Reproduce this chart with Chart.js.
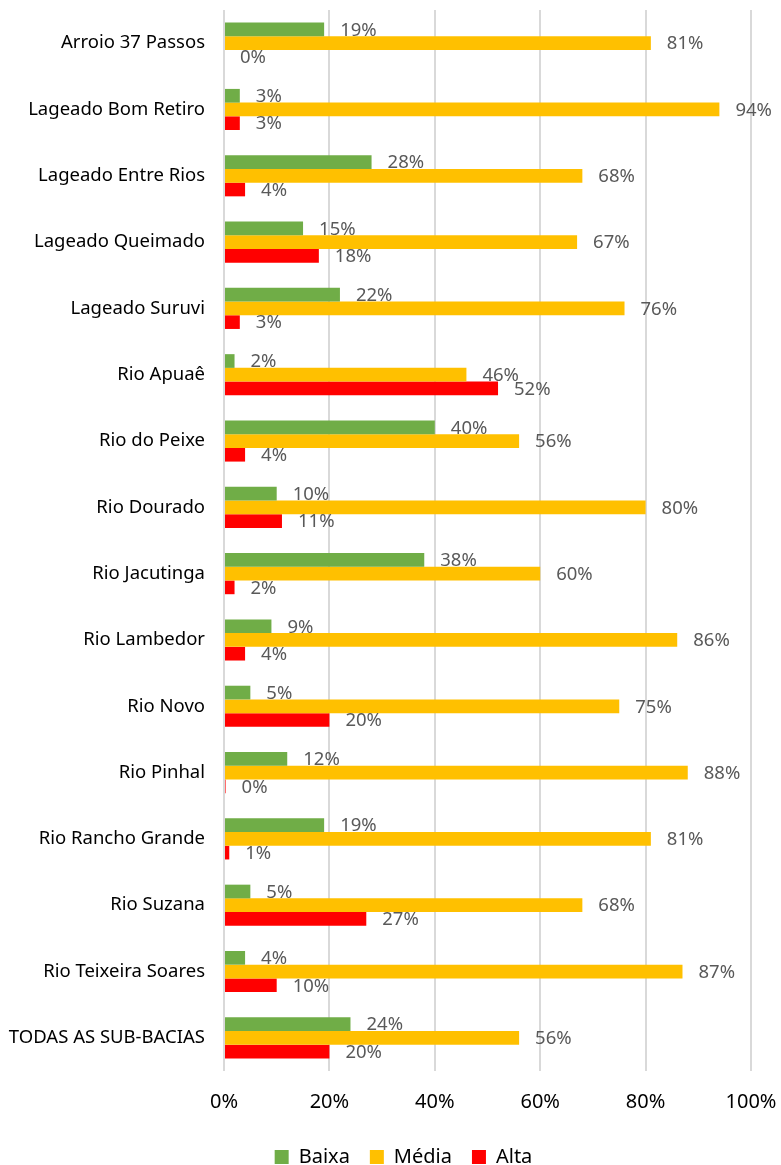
<!DOCTYPE html>
<html lang="pt-BR">
<head>
<meta charset="utf-8">
<title>Sub-bacias</title>
<script src="https://cdn.jsdelivr.net/npm/chart.js@4.4.1/dist/chart.umd.min.js"></script>
<style>
  html, body { margin: 0; padding: 0; background: #fff; }
  canvas { display: block; }
</style>
</head>
<body>
<canvas id="grafico" width="781" height="1165"></canvas>
<script>
// sub-bacias e percentuais por classe
const subBacias = [
    'Arroio 37 Passos', 'Lageado Bom Retiro', 'Lageado Entre Rios', 'Lageado Queimado',
    'Lageado Suruvi', 'Rio Apuaê', 'Rio do Peixe', 'Rio Dourado', 'Rio Jacutinga',
    'Rio Lambedor', 'Rio Novo', 'Rio Pinhal', 'Rio Rancho Grande', 'Rio Suzana',
    'Rio Teixeira Soares', 'TODAS AS SUB-BACIAS'
];
const baixa = [19, 3, 28, 15, 22, 2, 40, 10, 38, 9, 5, 12, 19, 5, 4, 24];
const media = [81, 94, 68, 67, 76, 46, 56, 80, 60, 86, 75, 88, 81, 68, 87, 56];
const alta  = [0, 3, 4, 18, 3, 52, 4, 11, 2, 4, 20, 0.3, 1, 27, 10, 20];
const ticksX = [0, 20, 40, 60, 80, 100];

const fonte = '"Noto Sans", "Open Sans", sans-serif';

// escreve o percentual logo depois do fim de cada barra
const rotulosBarras = {
    id: 'rotulosBarras',
    afterDatasetsDraw(chart) {
        const ctx = chart.ctx;
        ctx.save();
        ctx.font = '18.5px ' + fonte;
        ctx.fillStyle = '#595959';
        ctx.textAlign = 'left';
        ctx.textBaseline = 'middle';
        chart.data.datasets.forEach((ds, i) => {
            chart.getDatasetMeta(i).data.forEach((bar, j) => {
                ctx.fillText(Math.round(ds.data[j]) + '%', bar.x + 16, bar.y + 1);
            });
        });
        ctx.restore();
    }
};

// desce a legenda para perto da borda e puxa um pouco para a direita
const legendaAbaixo = {
    id: 'legendaAbaixo',
    afterLayout(chart) {
        const lg = chart.legend;
        lg.top += 12;
        lg.bottom += 12;
        lg.left += 28;
        lg.right += 28;
    }
};

new Chart(document.getElementById('grafico'), {
    type: 'bar',
    data: {
        labels: subBacias,
        datasets: [
            { label: 'Baixa', data: baixa, backgroundColor: '#70AD47' },
            { label: 'Média', data: media, backgroundColor: '#FFC000' },
            { label: 'Alta', data: alta, backgroundColor: '#FF0000' }
        ]
    },
    options: {
        indexAxis: 'y',
        responsive: false,
        animation: false,
        categoryPercentage: 0.62,
        barPercentage: 1,
        layout: { padding: { top: 10, right: 30, left: 0, bottom: 0 } },
        scales: {
            x: {
                min: 0,
                max: 100,
                afterBuildTicks: s => { s.ticks = ticksX.map(v => ({ value: v })); },
                afterFit: s => { s.height = 44; s.paddingLeft = 0; s.paddingRight = 0; },
                grid: { color: '#D9D9D9', lineWidth: 2, drawTicks: false },
                border: { display: false },
                ticks: {
                    padding: 19,
                    color: '#000',
                    font: { family: fonte, size: 20 },
                    callback: v => v + '%'
                }
            },
            y: {
                grid: { display: false, drawTicks: false },
                border: { display: false },
                afterFit: s => { s.width = 224; s.paddingTop = 0; s.paddingBottom = 0; },
                ticks: {
                    padding: 19,
                    color: '#000',
                    font: { family: fonte, size: 18.5 }
                }
            }
        },
        plugins: {
            legend: {
                position: 'bottom',
                labels: {
                    boxWidth: 14,
                    boxHeight: 14,
                    padding: 20,
                    color: '#000',
                    font: { family: fonte, size: 20 }
                }
            },
            tooltip: { enabled: false }
        }
    },
    plugins: [rotulosBarras, legendaAbaixo]
});
</script>
</body>
</html>
